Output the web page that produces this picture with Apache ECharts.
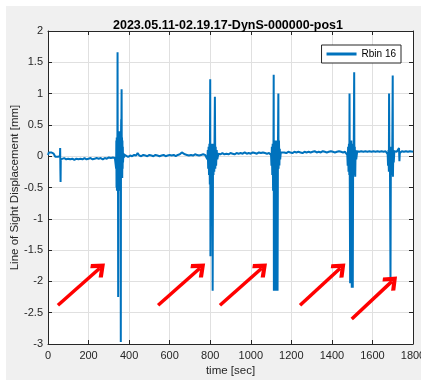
<!DOCTYPE html>
<html>
<head>
<meta charset="utf-8">
<script src="https://cdn.jsdelivr.net/npm/echarts@6/dist/echarts.min.js"></script>
<style>
  html, body { margin: 0; padding: 0; background: #ffffff; }
  #chart {
    position: absolute;
    left: 6px;
    top: 6px;
    width: 415px;
    height: 374px;
    background: #f0f0f0;
  }
</style>
</head>
<body>
<div id="chart"></div>
<script>
const titleText = '2023.05.11-02.19.17-DynS-000000-pos1';
const seriesName = 'Rbin 16';

// [time (sec), line of sight displacement (mm)]
const rbin16 = [
  [0, 0.02], [4, 0.06], [8, 0.05], [12, 0.08], [16, 0.06], [20, 0.08], [24, 0.06], [28, 0.04],
  [32, 0.01], [36, -0.01], [40, 0.0], [44, -0.02], [48, -0.01], [52, -0.03], [56, -0.02], [59, 0.0],
  [60, 0.13], [61, -0.2], [62, -0.41], [63, -0.05], [66, -0.02], [72, -0.04], [80, -0.03], [90, -0.05],
  [100, -0.04], [110, -0.05], [120, -0.04], [130, -0.06], [140, -0.04], [150, -0.05], [160, -0.04],
  [170, -0.05], [180, -0.03], [190, -0.05], [200, -0.04], [210, -0.03], [220, -0.05], [230, -0.04],
  [240, -0.03], [250, -0.04], [260, -0.03], [270, -0.05], [280, -0.03], [290, -0.04], [300, -0.02],
  [310, -0.03], [320, -0.02], [330, -0.03],
  // event 1
  [334, 0.0], [336, -0.2], [337, 0.25], [338, -0.5], [339, 0.3], [340, -0.55], [341, 0.2], [342, -0.3],
  [343, 1.66], [344, -0.4], [345, 0.3], [346, -2.25], [347, 0.35], [348, -0.5], [349, 0.4], [350, -0.55],
  [351, 0.35], [352, -0.45], [353, 0.4], [354, -0.5], [355, 0.3], [356, -0.4], [357, 0.25], [358, -0.3],
  [359, -2.97], [360, 0.3], [361, 0.59], [362, 0.4], [363, 1.07], [364, -0.3], [365, 0.3], [366, -0.35],
  [367, 0.25], [368, -0.2], [369, 0.15], [370, -0.1], [372, 0.05], [375, -0.02], [378, 0.02],
  [385, 0.01], [395, -0.01], [405, 0.01], [415, 0.0], [425, 0.02], [435, 0.01], [442, 0.05], [450, 0.01],
  [460, 0.0], [470, 0.02], [480, 0.01], [490, 0.0], [500, 0.02], [510, 0.01], [520, 0.0], [530, 0.02],
  [540, 0.01], [550, 0.0], [560, 0.01], [570, 0.02], [580, 0.0], [590, 0.01], [600, 0.02], [610, 0.01],
  [620, 0.02], [630, 0.0], [640, 0.02], [650, 0.03], [660, 0.06], [668, 0.07], [675, 0.03], [685, 0.02],
  [695, 0.01], [705, 0.02], [715, 0.01], [725, 0.03], [735, 0.02], [745, 0.01], [755, 0.02], [765, 0.03],
  [775, 0.02], [783, 0.02],
  // event 2
  [786, -0.05], [788, 0.1], [790, -0.2], [792, 0.15], [794, -0.3], [796, 0.2], [798, -0.45], [800, 1.23],
  [801, -1.6], [803, 0.1], [805, -0.3], [807, 0.2], [809, -0.4], [811, 0.15], [812, -2.15], [814, 0.2],
  [816, -0.3], [818, 0.15], [820, -0.25], [823, 0.95], [825, -0.2], [827, 0.15], [829, -0.15], [832, 0.1],
  [835, -0.05], [840, 0.04],
  [850, 0.03], [860, 0.05], [870, 0.03], [880, 0.04], [890, 0.03], [900, 0.05], [910, 0.04], [920, 0.03],
  [930, 0.05], [940, 0.04], [950, 0.05], [960, 0.04], [970, 0.06], [980, 0.04], [990, 0.05], [1000, 0.04],
  [1010, 0.06], [1020, 0.05], [1030, 0.04], [1040, 0.06], [1050, 0.05], [1060, 0.06], [1070, 0.05],
  [1080, 0.04], [1090, 0.05], [1097, 0.06],
  // event 3
  [1100, 0.02], [1102, -0.15], [1104, 0.15], [1106, -0.3], [1108, 0.2], [1110, -0.55], [1112, 0.25],
  [1113, 1.3], [1114, -2.15], [1116, 0.2], [1117, -2.15], [1119, 0.25], [1120, -2.15], [1122, 0.2],
  [1123, -2.15], [1125, 0.25], [1126, -2.15], [1128, 0.2], [1129, -2.15], [1131, 0.25], [1132, -2.15],
  [1134, 0.15], [1136, 1.0], [1137, -0.2], [1139, 0.25], [1141, -0.15], [1143, 0.12], [1145, -0.05],
  [1148, 0.06],
  [1155, 0.05], [1165, 0.06], [1175, 0.05], [1185, 0.07], [1195, 0.06], [1205, 0.05], [1215, 0.07],
  [1225, 0.06], [1235, 0.07], [1245, 0.06], [1255, 0.05], [1265, 0.07], [1275, 0.06], [1285, 0.07],
  [1295, 0.06], [1305, 0.07], [1315, 0.08], [1325, 0.06], [1335, 0.07], [1345, 0.06], [1355, 0.08],
  [1365, 0.07], [1375, 0.06], [1385, 0.07], [1395, 0.08], [1405, 0.07], [1415, 0.06], [1425, 0.07],
  [1435, 0.08], [1445, 0.07], [1455, 0.06], [1465, 0.07], [1473, 0.07],
  // event 4
  [1476, 0.02], [1478, -0.15], [1480, 0.15], [1482, -0.25], [1484, 0.2], [1486, -0.3], [1487, 1.0],
  [1488, -0.2], [1490, -2.03], [1492, 0.2], [1494, -0.3], [1496, 0.25], [1498, -2.1], [1500, 0.2],
  [1502, -0.3], [1503, -2.1], [1505, 0.2], [1507, -0.3], [1510, 1.34], [1511, -0.2], [1513, 0.15],
  [1515, -0.33], [1517, 0.1], [1520, -0.05], [1525, 0.08],
  [1535, 0.07], [1545, 0.08], [1555, 0.07], [1565, 0.08], [1575, 0.07], [1585, 0.08], [1595, 0.07],
  [1605, 0.08], [1615, 0.07], [1625, 0.08], [1635, 0.07], [1645, 0.08], [1655, 0.07], [1665, 0.08],
  [1672, 0.07],
  // event 5
  [1675, 0.03], [1677, -0.15], [1679, 0.1], [1681, -0.25], [1682, 1.0], [1684, -0.2], [1686, 0.15],
  [1689, -1.95], [1691, 0.1], [1693, -0.2], [1695, 0.15], [1697, -0.3], [1700, 1.29], [1701, -0.33],
  [1703, 0.1], [1705, -0.1], [1708, 0.08], [1712, 0.05],
  [1720, 0.07], [1728, 0.06], [1731, 0.13], [1733, -0.08], [1735, 0.05], [1745, 0.08], [1755, 0.07],
  [1765, 0.08], [1775, 0.07], [1785, 0.08], [1800, 0.07]
];

// red annotation arrows: [tailTime, tailMm, headTime, headMm]
const arrows = [
  [49, -2.38, 255, -1.79],
  [543, -2.38, 749, -1.79],
  [848, -2.38, 1054, -1.79],
  [1243, -2.38, 1441, -1.79],
  [1498, -2.6, 1696, -2.0]
];

const xTicks = { min: 0, max: 1800, interval: 200 };
const yTicks = { min: -3, max: 2, interval: 0.5 };

const font = '"Liberation Sans", Arial, sans-serif';
const ink = '#262626';
const chevron = 'path://M0,0 L10,10 L7,13 L0,6 L-7,13 L-10,10 Z';

const chart = echarts.init(document.getElementById('chart'));

const axisCommon = {
  type: 'value',
  axisLine: { show: true, onZero: false, lineStyle: { color: ink, width: 1 } },
  axisTick: { show: true, inside: true, length: 4, lineStyle: { color: ink } }
};

const option = {
  animation: false,
  textStyle: { fontFamily: font },
  title: {
    text: titleText,
    left: 102,
    top: 8,
    textStyle: { fontSize: 12.5, fontWeight: 'bold', color: '#000', fontFamily: font }
  },
  legend: {
    data: [seriesName],
    right: 20,
    top: 39,
    backgroundColor: '#fff',
    borderColor: ink,
    borderWidth: 1,
    borderRadius: 0,
    padding: [4, 5],
    icon: 'rect',
    itemWidth: 30,
    itemHeight: 3,
    textStyle: { fontSize: 10, color: '#000', fontFamily: font }
  },
  grid: {
    left: 42, top: 25, width: 365, height: 313,
    outerBoundsMode: 'none', containLabel: false,
    show: true, backgroundColor: '#fff', borderWidth: 0
  },
  xAxis: [
    {
      ...axisCommon,
      ...xTicks,
      position: 'bottom',
      name: 'time [sec]',
      nameLocation: 'middle',
      nameGap: 21,
      nameMoveOverlap: false,
      nameTextStyle: { fontSize: 11.5, color: ink, fontFamily: font },
      axisLabel: { color: ink, fontSize: 11, margin: 6, fontFamily: font, formatter: (v) => String(v) },
      splitLine: { show: true, lineStyle: { color: '#e0e0e0', width: 1 } }
    },
    {
      ...axisCommon,
      ...xTicks,
      position: 'top',
      axisLabel: { show: false },
      splitLine: { show: false }
    }
  ],
  yAxis: [
    {
      ...axisCommon,
      ...yTicks,
      position: 'left',
      name: 'Line of Sight Displacement [mm]',
      nameLocation: 'middle',
      nameGap: 27,
      nameMoveOverlap: false,
      nameTextStyle: { fontSize: 11.5, color: ink, fontFamily: font },
      axisLabel: { color: ink, fontSize: 11, margin: 5, fontFamily: font, formatter: (v) => String(v) },
      splitLine: { show: true, lineStyle: { color: '#e0e0e0', width: 1 } }
    },
    {
      ...axisCommon,
      ...yTicks,
      position: 'right',
      axisLabel: { show: false },
      splitLine: { show: false }
    }
  ],
  series: [
    {
      name: seriesName,
      type: 'line',
      data: rbin16,
      showSymbol: false,
      symbol: 'none',
      color: '#0072BD',
      lineStyle: { color: '#0072BD', width: 2 },
      markLine: {
        silent: true,
        animation: false,
        symbol: ['none', chevron],
        symbolSize: [18, 14],
        label: { show: false },
        lineStyle: { color: '#ff0000', width: 3.5, type: 'solid' },
        emphasis: { disabled: true },
        data: arrows.map(([x1, y1, x2, y2]) => [{ coord: [x1, y1] }, { coord: [x2, y2] }])
      }
    }
  ]
};

chart.setOption(option);
</script>
</body>
</html>
